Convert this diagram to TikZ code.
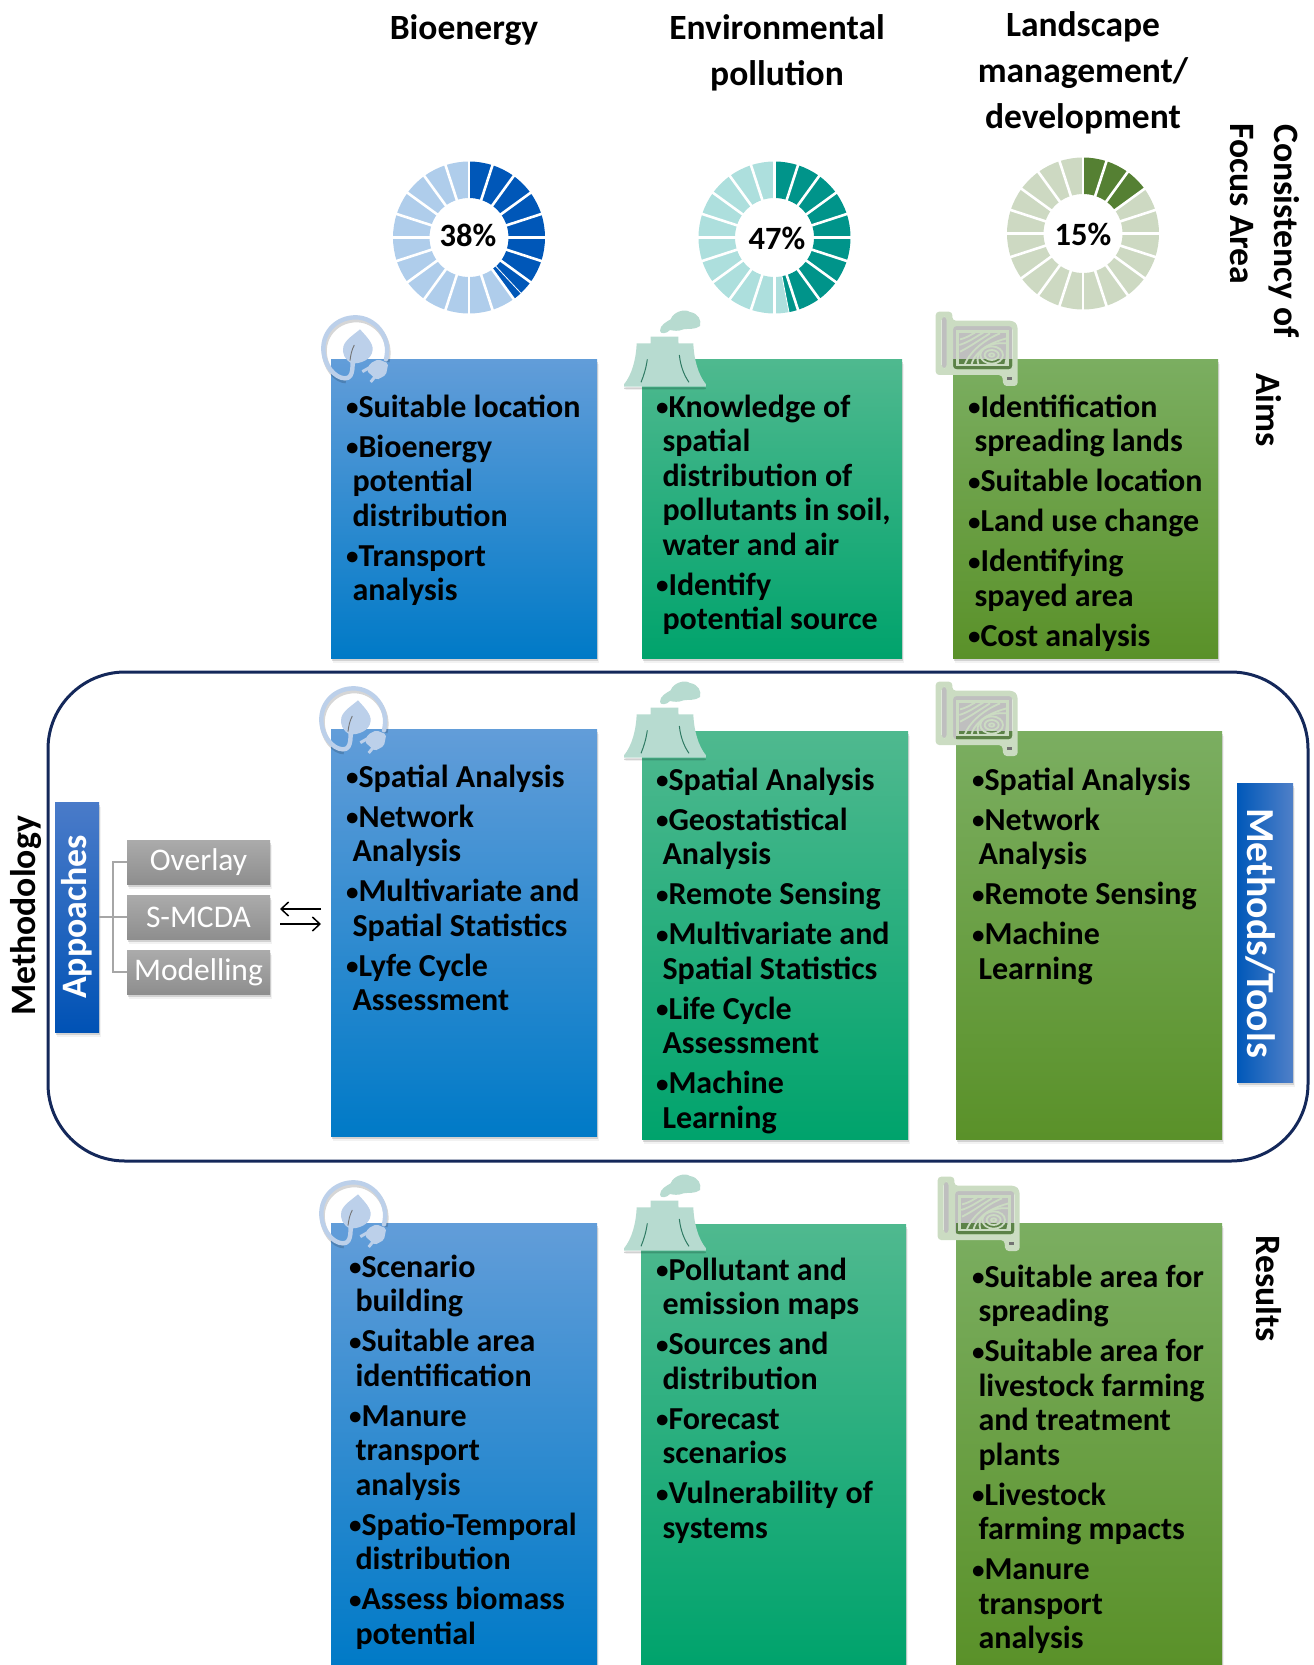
\documentclass[tikz,border=0pt]{standalone}
\usepackage{fontspec}
\setmainfont{Carlito}
\usetikzlibrary{shadows,arrows.meta}
\definecolor{ringc}{HTML}{BCD0EA}
\definecolor{towerc}{HTML}{B7DBD0}
\definecolor{mapc}{HTML}{CBDCC2}
\definecolor{bluetop}{HTML}{629DD9}
\definecolor{bluemid}{HTML}{2F89D4}
\definecolor{bluebot}{HTML}{007AC7}
\definecolor{greentop}{HTML}{4FB98F}
\definecolor{greenmid}{HTML}{00B17F}
\definecolor{greenbot}{HTML}{00A36C}
\definecolor{olivetop}{HTML}{7BAE61}
\definecolor{olivemid}{HTML}{63A236}
\definecolor{olivebot}{HTML}{5A9129}
\definecolor{graytop}{HTML}{ABABAB}
\definecolor{graybot}{HTML}{8E8E8E}
\definecolor{linkc}{HTML}{A6A6A6}
\definecolor{framec}{HTML}{14285A}
\definecolor{appTop}{HTML}{4A7BC9}
\definecolor{appBot}{HTML}{0052B5}
\definecolor{mtA}{HTML}{0058B9}
\definecolor{mtB}{HTML}{5080C8}
\definecolor{dbd}{HTML}{0057B8}
\definecolor{dbl}{HTML}{AFCDEB}
\definecolor{dtd}{HTML}{00948A}
\definecolor{dtl}{HTML}{ADDFDD}
\definecolor{dod}{HTML}{558033}
\definecolor{dol}{HTML}{CDD9C2}
\definecolor{towerline}{HTML}{2F7A63}
\tikzset{
 softshadow/.style={drop shadow={opacity=.10,shadow xshift=2pt,shadow yshift=-5pt},drop shadow={opacity=.28,shadow xshift=1pt,shadow yshift=-2.5pt}},
 colbox/.style={anchor=north west,inner sep=0pt,outer sep=0pt,softshadow},
 bluebox/.style={colbox,top color=bluetop,middle color=bluemid,bottom color=bluebot},
 greenbox/.style={colbox,top color=greentop,middle color=greenmid,bottom color=greenbot},
 olivebox/.style={colbox,top color=olivetop,middle color=olivemid,bottom color=olivebot},
 graybox/.style={colbox,anchor=center,top color=graytop,bottom color=graybot,text=white,font=\fontsize{31.5}{34}\selectfont,minimum width=143pt,minimum height=44pt},
 listtext/.style={anchor=north west,inner sep=0pt,outer sep=0pt,align=left,font=\bfseries\fontsize{32}{34.5}\selectfont,text=black},
 head/.style={inner sep=0pt,align=center,font=\bfseries\fontsize{35.5}{46}\selectfont},
 sidelab/.style={inner sep=0pt,align=center,font=\bfseries\fontsize{35.7}{46}\selectfont},
 pct/.style={inner sep=0pt,font=\bfseries\fontsize{32.5}{34}\selectfont},
 linkline/.style={draw=linkc,line width=1.4pt},
 swaparrow/.style={draw=black,line width=1.5pt,-{Straight Barb[length=7.5pt,width=14pt]},shorten >=10pt,shorten <=10pt},
}
\newcommand\bitem[1]{\strut\makebox[12.5pt][l]{\raisebox{1.2pt}{\fontsize{25}{25}\selectfont •}}#1}
\newcommand\bcont[1]{\strut\hspace*{6.5pt}#1}
% donut: cx cy ndark dark light partial-angle
\newcommand\donut[6]{%
 \begin{scope}[shift={(#1,#2)},x=1pt,y=1pt]
  \foreach \i in {0,...,19}{
   \pgfmathsetmacro\aa{90-18*\i}\pgfmathsetmacro\bb{90-18*(\i+1)}
   \ifnum\i<#3\relax\def\cc{#4}\else\def\cc{#5}\fi
   \fill[\cc] (\aa:76pt) arc[start angle=\aa,end angle=\bb,radius=76pt] -- (\bb:39.5pt) arc[start angle=\bb,end angle=\aa,radius=39.5pt] -- cycle;
  }
  \pgfmathsetmacro\aa{90-18*#3}\pgfmathsetmacro\bb{90-#6}
  \fill[#4] (\aa:76pt) arc[start angle=\aa,end angle=\bb,radius=76pt] -- (\bb:39.5pt) arc[start angle=\bb,end angle=\aa,radius=39.5pt] -- cycle;
  \draw[white,line width=.8pt] (\bb:39pt) -- (\bb:77pt);
  \foreach \i in {0,...,19}{\draw[white,line width=2.6pt] (90-18*\i:38pt) -- (90-18*\i:78pt);}
 \end{scope}}
% icons, coordinates in 3x zoom pixels
\newcommand\plugicon[2]{%
 \begin{scope}[shift={(#1,#2)},x=.3333pt,y=-.3333pt]
  \draw[black,opacity=.16,line width=5pt,shift={(1pt,-2.5pt)}] (228,178) .. controls (245,110) and (195,52) .. (137,52) .. controls (80,52) and (40,95) .. (40,145) .. controls (40,195) and (75,235) .. (105,235);
  \draw[ringc,line width=4.4pt,line cap=round] (228,178) .. controls (245,110) and (195,52) .. (137,52) .. controls (80,52) and (40,95) .. (40,145) .. controls (40,195) and (75,235) .. (105,235) .. controls (135,235) and (125,190) .. (130,160);
  \fill[ringc] (150,88) .. controls (170,110) and (190,130) .. (188,150) .. controls (185,180) and (150,192) .. (125,190) .. controls (105,180) and (95,160) .. (100,140) .. controls (105,120) and (130,105) .. (150,88) -- cycle;
  \draw[black!55,line width=.9pt] (133,135) .. controls (125,150) and (122,165) .. (120,182);
  \fill[ringc,rounded corners=2pt] (180,190) -- (205,178) -- (235,190) -- (228,225) -- (200,240) -- (170,212) -- cycle;
  \draw[ringc,line width=3pt] (178,203) -- (157,215) (197,228) -- (182,246);
 \end{scope}}
\newcommand\towericon[2]{%
 \begin{scope}[shift={(#1,#2)},x=.3333pt,y=-.3333pt]
  \fill[black,opacity=.18,rounded corners=2pt] (42,262) -- (288,262) -- (288,268) -- (42,268) -- cycle;
  \fill[towerc] (80,130) -- (125,130) -- (215,130) -- (250,130) .. controls (252,180) and (265,225) .. (288,253) -- (288,260) -- (42,260) -- (42,253) .. controls (65,225) and (78,180) .. (80,130) -- cycle;
  \fill[towerc] (122,110) -- (205,110) .. controls (205,170) and (220,220) .. (240,255) -- (90,255) .. controls (110,220) and (122,170) .. (122,110) -- cycle;
  \draw[towerline,line width=1pt] (112,178) .. controls (108,205) and (102,225) .. (93,247);
  \draw[towerline,line width=1pt] (208,165) .. controls (212,200) and (222,225) .. (237,247);
  \fill[towerc] (150,92) .. controls (150,75) and (170,65) .. (182,58) .. controls (190,35) and (225,25) .. (240,36) .. controls (265,40) and (275,60) .. (270,78) .. controls (255,90) and (235,85) .. (220,88) .. controls (205,95) and (190,92) .. (180,90) .. controls (170,102) and (150,103) .. (150,92) -- cycle;
 \end{scope}}
\newcommand\mapicon[2]{%
 \begin{scope}[shift={(#1,#2)},x=.3333pt,y=-.3333pt]
  \fill[black,opacity=.25] (82,78) rectangle (262,208);
  \fill[black,opacity=.25] (50,50) rectangle (65,205);
  \fill[mapc,even odd rule,rounded corners=3.5pt]
    (32,35) -- (82,35) -- (82,62) -- (265,62) -- (278,75) -- (278,258) -- (235,258) -- (232,225) -- (32,225) -- cycle
    (50,50) -- (65,50) -- (65,205) -- (50,205) -- cycle
    (84,78) -- (262,78) -- (262,208) -- (84,208) -- cycle;
  \fill[black!55] (247,232) rectangle (262,240);
  \draw[mapc,line width=2.4pt] (98,95) rectangle (248,195);
  \begin{scope}[mapc,line width=1.8pt]
   \draw (200,165) ellipse (34 and 26);
   \draw (200,165) ellipse (21 and 15);
   \draw (200,165) ellipse (8 and 5);
   \draw (105,118) .. controls (130,112) and (140,102) .. (150,98);
   \draw (103,135) .. controls (135,125) and (155,108) .. (175,98);
   \draw (105,155) .. controls (135,140) and (155,125) .. (195,100);
   \draw (120,192) .. controls (130,165) and (165,125) .. (225,100);
   \draw (140,192) .. controls (145,170) and (170,135) .. (245,115);
   \draw (160,192) .. controls (150,165) and (170,125) .. (245,130);
   \draw (240,195) .. controls (246,175) and (246,160) .. (245,150);
  \end{scope}
 \end{scope}}
\begin{document}
\begin{tikzpicture}[x=1pt,y=-1pt]
\useasboundingbox (0,0) rectangle (1314,1665);
% headers
\node[head] (hBio) at (464,30) {Bioenergy};
\node[head] (hEnv) at (777,53) {Environmental\\pollution};
\node[head] (hLand) at (1083,73) {Landscape\\management/\\development};
% donuts
\donut{469}{237.5}{8}{dbd}{dbl}{137}
\donut{774.5}{237.5}{9}{dtd}{dtl}{169}
\donut{1083}{233.5}{3}{dod}{dol}{54}
\node[pct] (p1) at (468,235) {38\%};
\node[pct] (p2) at (777,238) {47\%};
\node[pct] (p3) at (1083,234) {15\%};
% side labels
\node[sidelab,rotate=-90] (sConsist) at (1284,231) {Consistency of};
\node[sidelab,rotate=-90] (sFocus) at (1242,204) {Focus Area};
\node[sidelab,rotate=-90] (sAims) at (1269,410) {Aims};
\node[sidelab,rotate=-90] (sResults) at (1269,1289) {Results};
\node[sidelab,rotate=90] (sMeth) at (26,916) {Methodology};
% frame
\node[draw=framec,line width=3pt,rounded corners=77pt,inner sep=0pt,minimum width=1260pt,minimum height=489pt] (frame) at (678,916.5) {};
% row 1
\node[bluebox,minimum width=266pt,minimum height=299pt] (b1) at (331,359) {};
\node[greenbox,minimum width=260pt,minimum height=299pt] (g1) at (642,359) {};
\node[olivebox,minimum width=265pt,minimum height=299pt] (o1) at (953,359) {};
% row 2
\node[bluebox,minimum width=266pt,minimum height=407pt] (b2) at (331,729) {};
\node[greenbox,minimum width=266pt,minimum height=408pt] (g2) at (642,731) {};
\node[olivebox,minimum width=266pt,minimum height=408pt] (o2) at (956,731) {};
% row 3
\node[bluebox,minimum width=266pt,minimum height=442pt] (b3) at (331,1223) {};
\node[greenbox,minimum width=265pt,minimum height=441pt] (g3) at (641,1224) {};
\node[olivebox,minimum width=266pt,minimum height=442pt] (o3) at (956,1223) {};
% icons
\plugicon{310}{300}\plugicon{308}{671}\plugicon{308}{1165}
\towericon{610}{300}\towericon{610}{671}\towericon{610}{1164}
\mapicon{925}{300}\mapicon{925}{670}\mapicon{927}{1165}
% lists
\node[listtext] (t1b) at (346,393) {\bitem{Suitable location}\\[5.5pt]\bitem{Bioenergy}\\\bcont{potential}\\\bcont{distribution}\\[5.5pt]\bitem{Transport}\\\bcont{analysis}};
\node[listtext] (t1g) at (656,393) {\bitem{Knowledge of}\\\bcont{spatial}\\\bcont{distribution of}\\\bcont{pollutants in soil,}\\\bcont{water and air}\\[5.5pt]\bitem{Identify}\\\bcont{potential source}};
\node[listtext] (t1o) at (968,393) {\bitem{Identification}\\\bcont{spreading lands}\\[5.5pt]\bitem{Suitable location}\\[5.5pt]\bitem{Land use change}\\[5.5pt]\bitem{Identifying}\\\bcont{spayed area}\\[5.5pt]\bitem{Cost analysis}};
\node[listtext] (t2b) at (346,763) {\bitem{Spatial Analysis}\\[5.5pt]\bitem{Network}\\\bcont{Analysis}\\[5.5pt]\bitem{Multivariate and}\\\bcont{Spatial Statistics}\\[5.5pt]\bitem{Lyfe Cycle}\\\bcont{Assessment}};
\node[listtext] (t2g) at (656,766) {\bitem{Spatial Analysis}\\[5.5pt]\bitem{Geostatistical}\\\bcont{Analysis}\\[5.5pt]\bitem{Remote Sensing}\\[5.5pt]\bitem{Multivariate and}\\\bcont{Spatial Statistics}\\[5.5pt]\bitem{Life Cycle}\\\bcont{Assessment}\\[5.5pt]\bitem{Machine}\\\bcont{Learning}};
\node[listtext] (t2o) at (972,766) {\bitem{Spatial Analysis}\\[5.5pt]\bitem{Network}\\\bcont{Analysis}\\[5.5pt]\bitem{Remote Sensing}\\[5.5pt]\bitem{Machine}\\\bcont{Learning}};
\node[listtext] (t3b) at (349,1253) {\bitem{Scenario}\\\bcont{building}\\[5.5pt]\bitem{Suitable area}\\\bcont{identification}\\[5.5pt]\bitem{Manure}\\\bcont{transport}\\\bcont{analysis}\\[5.5pt]\bitem{Spatio-Temporal}\\\bcont{distribution}\\[5.5pt]\bitem{Assess biomass}\\\bcont{potential}};
\node[listtext] (t3g) at (656,1256) {\bitem{Pollutant and}\\\bcont{emission maps}\\[5.5pt]\bitem{Sources and}\\\bcont{distribution}\\[5.5pt]\bitem{Forecast}\\\bcont{scenarios}\\[5.5pt]\bitem{Vulnerability of}\\\bcont{systems}};
\node[listtext] (t3o) at (972,1263) {\bitem{Suitable area for}\\\bcont{spreading}\\[5.5pt]\bitem{Suitable area for}\\\bcont{livestock farming}\\\bcont{and treatment}\\\bcont{plants}\\[5.5pt]\bitem{Livestock}\\\bcont{farming mpacts}\\[5.5pt]\bitem{Manure}\\\bcont{transport}\\\bcont{analysis}};
% approaches
\node[colbox,anchor=center,top color=appTop,bottom color=appBot,minimum width=44pt,minimum height=230pt,text=white] (app) at (77,917) {};
\node[rotate=90,text=white,inner sep=0pt,font=\bfseries\fontsize{35.8}{38}\selectfont] (appT) at (app.center) {Appoaches};
\node[graybox] (ov) at (198.5,862) {Overlay};
\node[graybox] (sm) at (198.5,917) {S-MCDA};
\node[graybox] (mo) at (198.5,972) {Modelling};
\draw[linkline] (app.east |- sm.west) -- (sm.west);
\coordinate (jn) at (113,917);
\draw[linkline] (ov.west) -| (jn) |- (mo.west);
\draw[swaparrow] (b2.west |- 0,909) -- (sm.east |- 0,909);
\draw[swaparrow] (sm.east |- 0,924) -- (b2.west |- 0,924);
% methods/tools
\node[colbox,anchor=center,left color=mtA,right color=mtB,minimum width=56pt,minimum height=299pt] (mt) at (1265,932.5) {};
\node[rotate=-90,text=white,inner sep=0pt,font=\bfseries\fontsize{39.7}{42}\selectfont] (mtT) at (1261,933) {Methods/Tools};
\end{tikzpicture}
\end{document}
